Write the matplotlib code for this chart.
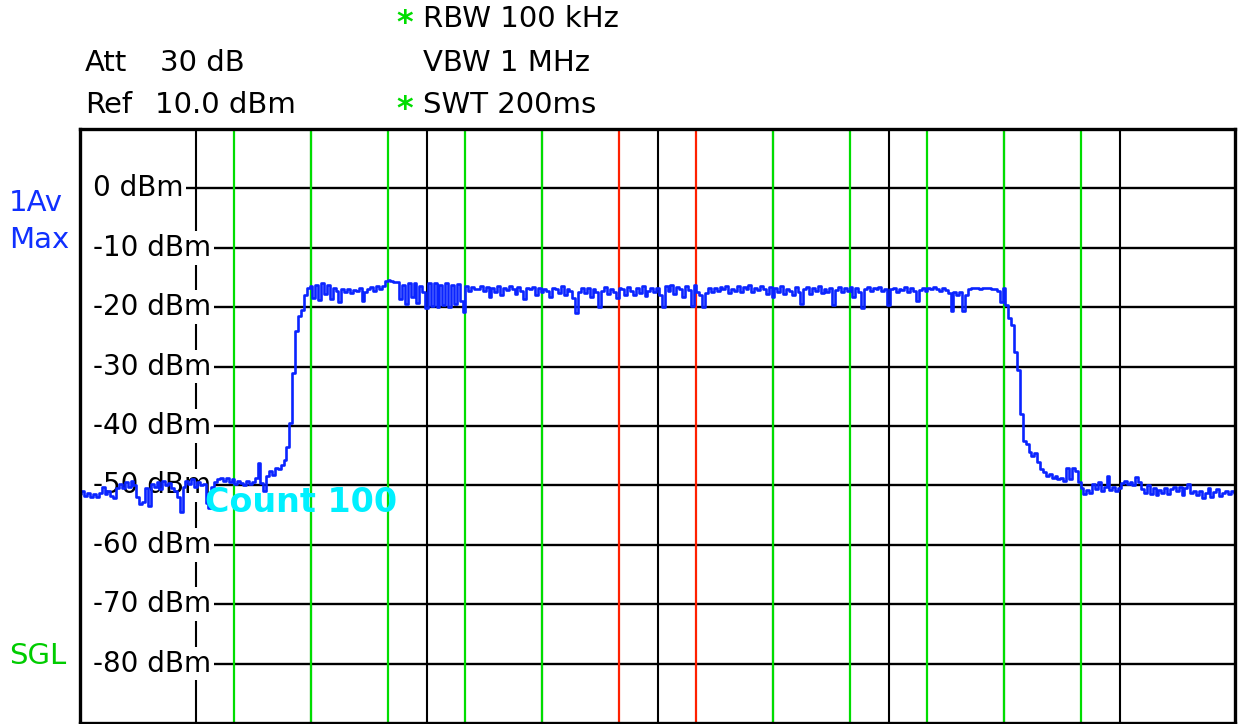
import numpy as np
import matplotlib
matplotlib.use('Agg')
import matplotlib.pyplot as plt

# Trace values in dBm (sweep points across 10 divisions)
noise_left = [
    -51.5, -51.0, -51.8, -51.3, -52.0, -51.5, -51.9, -51.2,
    -50.3, -51.5, -51.0, -51.8, -52.2, -50.5, -49.8, -50.5,
    -49.5, -50.2, -49.3, -50.0, -52.0, -53.2, -52.8, -50.5,
    -53.5, -49.8, -50.3, -49.5, -50.6, -49.2, -50.0, -49.6,
    -50.4, -51.0, -52.0, -54.5, -50.2, -49.3, -49.8, -49.0,
    -50.3, -49.5, -50.0, -49.8, -53.0, -53.8, -50.2, -49.5,
    -49.0, -48.7, -49.2, -48.8, -49.5, -49.0, -49.8, -49.3,
    -49.6, -50.0, -49.3, -49.8, -49.5, -48.8, -46.3, -49.6,
    -51.0, -48.5, -47.5, -48.2, -47.0, -47.3, -46.5, -45.8,
]
rise = [-43.6, -39.5, -31.0, -24.0, -21.5, -20.5, -18.0, -16.8]
band = [
    -16.5, -18.5, -16.2, -18.8, -16.0, -17.8, -16.3, -18.6, -16.8, -17.2,
    -19.2, -17.0, -17.4, -16.9, -17.6, -17.1, -17.3, -16.8, -18.9, -17.5,
    -17.0, -16.6, -17.2, -16.5, -16.9, -16.4, -15.6, -15.5, -15.6, -15.7,
    -15.8, -18.6, -16.2, -19.5, -15.9, -18.2, -16.0, -19.3, -16.4, -17.5,
    -20.2, -16.0, -19.8, -15.9, -20.0, -16.2, -19.6, -16.0, -19.9, -16.3,
    -19.4, -16.1, -19.0, -20.8, -16.5, -17.3, -16.6, -16.9, -17.0, -16.4,
    -17.2, -16.6, -18.2, -16.8, -17.4, -16.5, -17.9, -16.7, -17.1, -16.5,
    -16.9, -17.8, -16.6, -17.3, -18.6, -16.7, -17.0, -16.6, -18.0, -16.8,
    -17.5, -16.9, -17.2, -18.3, -16.7, -17.0, -17.6, -16.5, -18.0, -16.9,
    -17.3, -18.4, -21.0, -17.5, -16.8, -17.6, -16.7, -18.2, -16.9, -17.4,
    -20.0, -17.2, -16.6, -17.8, -16.9, -17.5, -18.4, -16.7, -17.0, -17.9,
    -16.6, -17.3, -18.0, -16.8, -17.6, -16.5, -18.1, -17.2, -16.8, -17.4,
    -16.7, -17.9, -20.0, -16.5, -17.2, -16.3, -17.8, -16.6, -17.0, -18.2,
    -16.4, -17.1, -19.8, -16.2, -17.4, -18.0, -20.0, -17.6, -16.7, -17.5,
    -16.8, -17.3, -16.6, -17.0, -16.4, -17.6, -16.9, -17.2, -16.5, -17.4,
    -16.6, -17.0, -16.3, -17.5, -16.8, -17.1, -16.5, -16.9, -17.7, -16.6,
    -18.3, -16.7, -17.4, -16.5, -17.8, -16.9, -17.2, -18.0, -16.6, -17.5,
    -19.5, -17.0, -16.6, -17.8, -16.7, -17.3, -16.5, -17.6, -16.9, -17.4,
    -16.8, -19.7, -17.1, -16.6, -17.5, -16.7, -17.2, -16.6, -18.3, -16.8,
    -17.4, -20.2, -16.9, -16.6, -17.2, -16.8, -17.0, -16.6, -17.3, -16.9,
    -19.6, -17.0, -16.7, -17.4, -16.9, -17.1, -16.6, -17.5, -16.8, -17.2,
    -19.0, -17.1, -16.7, -17.3, -16.8, -17.0, -16.6, -16.9, -17.2, -16.8,
    -17.1, -17.6, -20.6, -17.5, -18.0, -17.4, -20.6, -17.9, -16.9, -16.7,
    -16.8, -16.7, -16.9, -16.7, -16.8, -16.7, -16.9, -17.0, -17.3, -19.2,
    -16.8,
]
fall = [
    -19.6, -21.8, -23.0, -27.5, -30.5, -38.0, -42.5, -43.0, -44.3, -45.0,
    -44.6, -46.0, -47.2, -47.8, -48.4, -48.0, -48.8, -48.5, -49.0, -48.8,
    -49.2, -47.0, -48.9, -47.0, -47.6, -49.4,
]
noise_right = [
    -50.5, -51.5, -50.8, -51.3, -49.8, -50.6, -49.5, -50.9, -50.2, -48.4,
    -50.8, -50.2, -51.0, -50.4, -49.6, -49.3, -49.8, -49.4, -50.0, -48.6,
    -49.4, -50.6, -51.2, -50.0, -51.4, -50.5, -51.6, -50.7, -51.3, -50.4,
    -51.5, -50.6, -50.2, -51.0, -50.3, -51.6, -50.5, -49.8, -51.2, -50.9,
    -51.7, -51.0, -52.2, -51.3, -50.4, -52.0, -51.1, -50.6, -51.8, -51.2,
    -51.0, -51.4, -50.9, -51.2,
]

level_ticks = [0, -10, -20, -30, -40, -50, -60, -70, -80]
div_lines = [1, 2, 3, 4, 5, 6, 7, 8, 9]
green_marks = [1.33, 2.0, 2.67, 3.33, 4.0, 6.0, 6.67, 7.33, 8.0, 8.67]
red_marks = [4.67, 5.33]

trace = np.array(noise_left + rise + band + fall + noise_right)
x = np.linspace(0, 10, len(trace))

W, H = 1238, 724
fig = plt.figure(figsize=(W / 100, H / 100), dpi=100)
ax = fig.add_axes([80 / W, 1 / H, 1155 / W, 594 / H])
ax.set_xlim(0, 10)
ax.set_ylim(-90, 10)
ax.set_xticks([])
ax.set_yticks([])
for s in ax.spines.values():
    s.set_linewidth(2.4)
    s.set_zorder(10)

# graticule
for v in level_ticks:
    ax.axhline(v, xmin=0.011, color='black', lw=1.7, zorder=1)
for d in div_lines:
    ax.axvline(d, color='black', lw=1.5, zorder=1)
for d in green_marks:
    ax.axvline(d, color='#00dd00', lw=1.6, zorder=2)
for d in red_marks:
    ax.axvline(d, color='#ff2000', lw=1.6, zorder=2)

# level labels with white background masking the grid
for v in level_ticks:
    ax.text(0.11, v, f'{v} dBm', fontsize=20, va='center', ha='left',
            color='black', zorder=3,
            bbox=dict(facecolor='white', edgecolor='none', pad=2))

ax.plot(x, trace, color='#0a24ff', lw=1.9, drawstyle='steps-mid', zorder=4)

ax.text(1.08, -52.8, 'Count 100', fontsize=24, fontweight='bold',
        color='#00f0ff', va='center', ha='left', zorder=5)

def ftext(px, py, s, color='black', size=21, weight='normal'):
    fig.text(px / W, 1 - py / H, s, fontsize=size, color=color,
             ha='left', va='center', fontweight=weight)

ftext(85, 63, 'Att')
ftext(160, 63, '30 dB')
ftext(85, 105, 'Ref')
ftext(155, 105, '10.0 dBm')
ftext(396, 24, '*', color='#00dd00', size=23, weight='bold')
ftext(423, 19, 'RBW 100 kHz')
ftext(423, 63, 'VBW 1 MHz')
ftext(396, 110, '*', color='#00dd00', size=23, weight='bold')
ftext(423, 105, 'SWT 200ms')
ftext(9, 203, '1Av', color='#1030ff')
ftext(9, 240, 'Max', color='#1030ff')
ftext(9, 656, 'SGL', color='#00cc00')

fig.savefig('out.png', dpi=100, facecolor='white')
